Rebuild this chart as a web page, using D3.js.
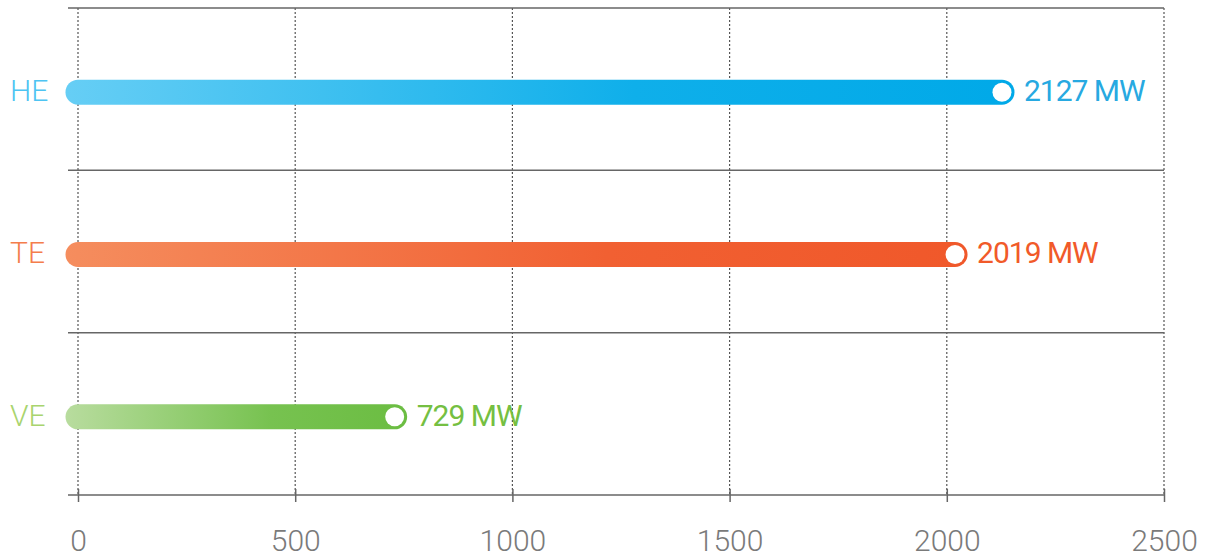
<!DOCTYPE html>
<html><head><meta charset="utf-8">
<script src="https://cdn.jsdelivr.net/npm/d3@7"></script>
<style>
html,body{margin:0;padding:0;background:#fff;}
svg{display:block;font-family:Roboto,"DejaVu Sans",sans-serif;}
</style></head>
<body><svg id="c" width="1212" height="559"></svg>
<script>
const categories = ["HE", "TE", "VE"];
const values = [2127, 2019, 729];
const valueLabels = ["2127 MW", "2019 MW", "729 MW"];
const tickValues = [0, 500, 1000, 1500, 2000, 2500];
const gradStart = ["#66cef5", "#f58d5e", "#b8dc9e"];
const gradEnd = ["#00a9e8", "#f0582a", "#6bbd42"];
const catColors = ["#4ec4f2", "#f47d4c", "#a9d46e"];
const valColors = ["#27a9e1", "#f15a29", "#75bf42"];

const svg = d3.select("#c");
const x = d3.scaleLinear().domain([0, 2500]).range([78, 1164]);
const y = d3.scaleBand().domain(categories).range([8, 495]);

const defs = svg.append("defs");
categories.forEach((c, i) => {
  const g = defs.append("linearGradient").attr("id", "g" + i)
    .attr("gradientUnits", "userSpaceOnUse")
    .attr("x1", x(0) - 12).attr("x2", x(values[i]) + 12).attr("y1", 0).attr("y2", 0);
  g.append("stop").attr("offset", "0%").attr("stop-color", gradStart[i]);
  g.append("stop").attr("offset", "60%").attr("stop-color", d3.interpolateRgb(gradStart[i], gradEnd[i])(0.85));
  g.append("stop").attr("offset", "100%").attr("stop-color", gradEnd[i]);
});

// vertical dotted grid
svg.append("g").selectAll("line").data(tickValues).join("line")
  .attr("x1", d => x(d)).attr("x2", d => x(d))
  .attr("y1", 8).attr("y2", 495)
  .attr("stroke", "#555").attr("stroke-width", 1.2).attr("stroke-dasharray", "2,2");

// horizontal band lines
const bounds = [8, y("TE"), y("VE")];
svg.append("g").selectAll("line").data(bounds).join("line")
  .attr("x1", 68).attr("x2", x(2500))
  .attr("y1", d => d).attr("y2", d => d)
  .attr("stroke", "#666").attr("stroke-width", 1.5);

// x axis
const ax = svg.append("g").attr("transform", "translate(0,495)")
  .call(d3.axisBottom(x).tickValues(tickValues).tickFormat(d3.format("d"))
    .tickSize(7).tickPadding(28).tickSizeOuter(0));
ax.select(".domain").remove();
ax.append("line").attr("x1", 68).attr("x2", x(2500)).attr("stroke", "#666").attr("stroke-width", 1.5);
ax.selectAll(".tick line").attr("y1", -6).attr("y2", 7).attr("stroke", "#666").attr("stroke-width", 1.5);
ax.selectAll(".tick text").attr("fill", "#7a7a7a").attr("font-size", 30).attr("font-weight", 300)
  .attr("font-family", "Roboto, sans-serif");

// category labels
svg.append("g").selectAll("text").data(categories).join("text")
  .attr("x", 10).attr("y", d => y(d) + y.bandwidth() / 2 + 4)
  .attr("dominant-baseline", "middle")
  .attr("font-size", 30).attr("font-weight", 300)
  .attr("fill", (d, i) => catColors[i]).text(d => d);

// bars
const bars = svg.append("g");
categories.forEach((c, i) => {
  const cy = y(c) + y.bandwidth() / 2 + 3;
  bars.append("line").attr("x1", x(0)).attr("x2", x(values[i]))
    .attr("y1", cy).attr("y2", cy)
    .attr("stroke", `url(#g${i})`).attr("stroke-width", 25).attr("stroke-linecap", "round");
  bars.append("circle").attr("cx", x(values[i])).attr("cy", cy).attr("r", 9.5)
    .attr("fill", "#fff");
  bars.append("text").attr("x", x(values[i]) + 22).attr("y", cy + 1)
    .attr("dominant-baseline", "middle")
    .attr("font-size", 30).attr("font-weight", 400).attr("letter-spacing", -1)
    .attr("fill", valColors[i]).text(valueLabels[i]);
});
</script></body></html>
